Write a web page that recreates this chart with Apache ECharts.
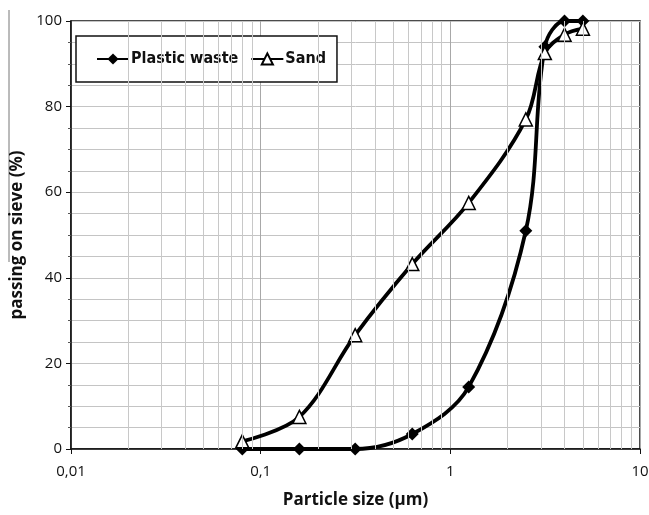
<!DOCTYPE html>
<html>
<head>
<meta charset="utf-8">
<script src="https://cdn.jsdelivr.net/npm/echarts@6/dist/echarts.min.js"></script>
<style>html,body{margin:0;padding:0;background:#fff}#c{width:649px;height:515px}</style>
</head>
<body>
<div id="c"></div>
<script>
const sizes = [0.08, 0.16, 0.315, 0.63, 1.25, 2.5, 3.15, 4, 5];
const plasticWaste = [0, 0, 0, 3.5, 14.5, 51, 94, 100, 100];
const sand = [1.8, 7.5, 26.6, 43.2, 57.5, 77, 92.5, 96.8, 98.2];
const xTicks = [0.01, 0.1, 1, 10];
const minorX = [];
[0.01, 0.1, 1].forEach(d => { for (let k = 2; k <= 9; k++) minorX.push(+(d * k).toPrecision(3)); });

const chart = echarts.init(document.getElementById('c'));
const font = 'Open Sans';
chart.setOption({
  animation: false,
  backgroundColor: '#fff',
  grid: { left: 71, right: 9, top: 21, bottom: 66, show: true, borderColor: '#111', borderWidth: 1.5, backgroundColor: 'transparent', containLabel: false, outerBoundsMode: 'none' },
  legend: {
    left: 76, top: 36, padding: [15, 11, 15, 20], itemGap: 12, itemWidth: 32, itemHeight: 14,
    borderColor: '#111', borderWidth: 1.5, backgroundColor: '#fff',
    textStyle: { fontFamily: 'DejaVu Sans Condensed', fontWeight: 'bold', fontSize: 16, color: '#111', padding: [0, 0, 0, -3] },
    data: ['Plastic waste', 'Sand']
  },
  graphic: [{ type: 'line', shape: { x1: 9, y1: 10, x2: 9, y2: 262 }, style: { stroke: '#777', lineWidth: 1 } }],
  xAxis: {
    type: 'log', logBase: 10, min: 0.01, max: 10,
    name: 'Particle size (μm)', nameLocation: 'middle', nameGap: 43,
    nameTextStyle: { fontFamily: font, fontWeight: 'bold', fontSize: 17, color: '#111' },
    axisLine: { lineStyle: { color: '#111', width: 1.5 } },
    axisTick: { show: true, length: 5, lineStyle: { color: '#111' } },
    axisLabel: { fontFamily: font, fontSize: 15, color: '#111', margin: 15,
      formatter: v => String(+v.toPrecision(3)).replace('.', ',') },
    splitLine: { show: true, lineStyle: { color: '#a8a8a8', width: 1 } }
  },
  yAxis: {
    type: 'value', min: 0, max: 100, interval: 20,
    name: 'passing on sieve (%)', nameLocation: 'middle', nameGap: 44,
    nameTextStyle: { fontFamily: font, fontWeight: 'bold', fontSize: 17, color: '#111' },
    axisLine: { show: true, lineStyle: { color: '#111', width: 1.5 } },
    axisTick: { show: true, length: 5, lineStyle: { color: '#111' } },
    minorTick: { show: true, splitNumber: 4, length: 3, lineStyle: { color: '#555' } },
    axisLabel: { fontFamily: font, fontSize: 15, color: '#111', margin: 9 },
    splitLine: { show: true, lineStyle: { color: '#c4c4c4', width: 1 } },
    minorSplitLine: { show: true, lineStyle: { color: '#c4c4c4', width: 1 } }
  },
  series: [
    {
      name: 'grid-minor', type: 'line', data: [], silent: true,
      markLine: { silent: true, symbol: 'none', label: { show: false },
        lineStyle: { color: '#c8c8c8', type: 'solid', width: 1 },
        data: minorX.map(v => ({ xAxis: v })) }
    },
    {
      name: 'Plastic waste', type: 'line', smooth: 0.35,
      data: sizes.map((s, i) => [s, plasticWaste[i]]),
      symbol: 'diamond', symbolSize: 13,
      itemStyle: { color: '#000' }, lineStyle: { color: '#000', width: 3.8 }, z: 3
    },
    {
      name: 'Sand', type: 'line', smooth: 0.35,
      data: sizes.map((s, i) => [s, sand[i]]),
      symbol: 'triangle', symbolSize: 13,
      itemStyle: { color: '#fff', borderColor: '#000', borderWidth: 1.5 }, lineStyle: { color: '#000', width: 3.8 }, z: 4
    }
  ]
});
</script>
</body>
</html>
